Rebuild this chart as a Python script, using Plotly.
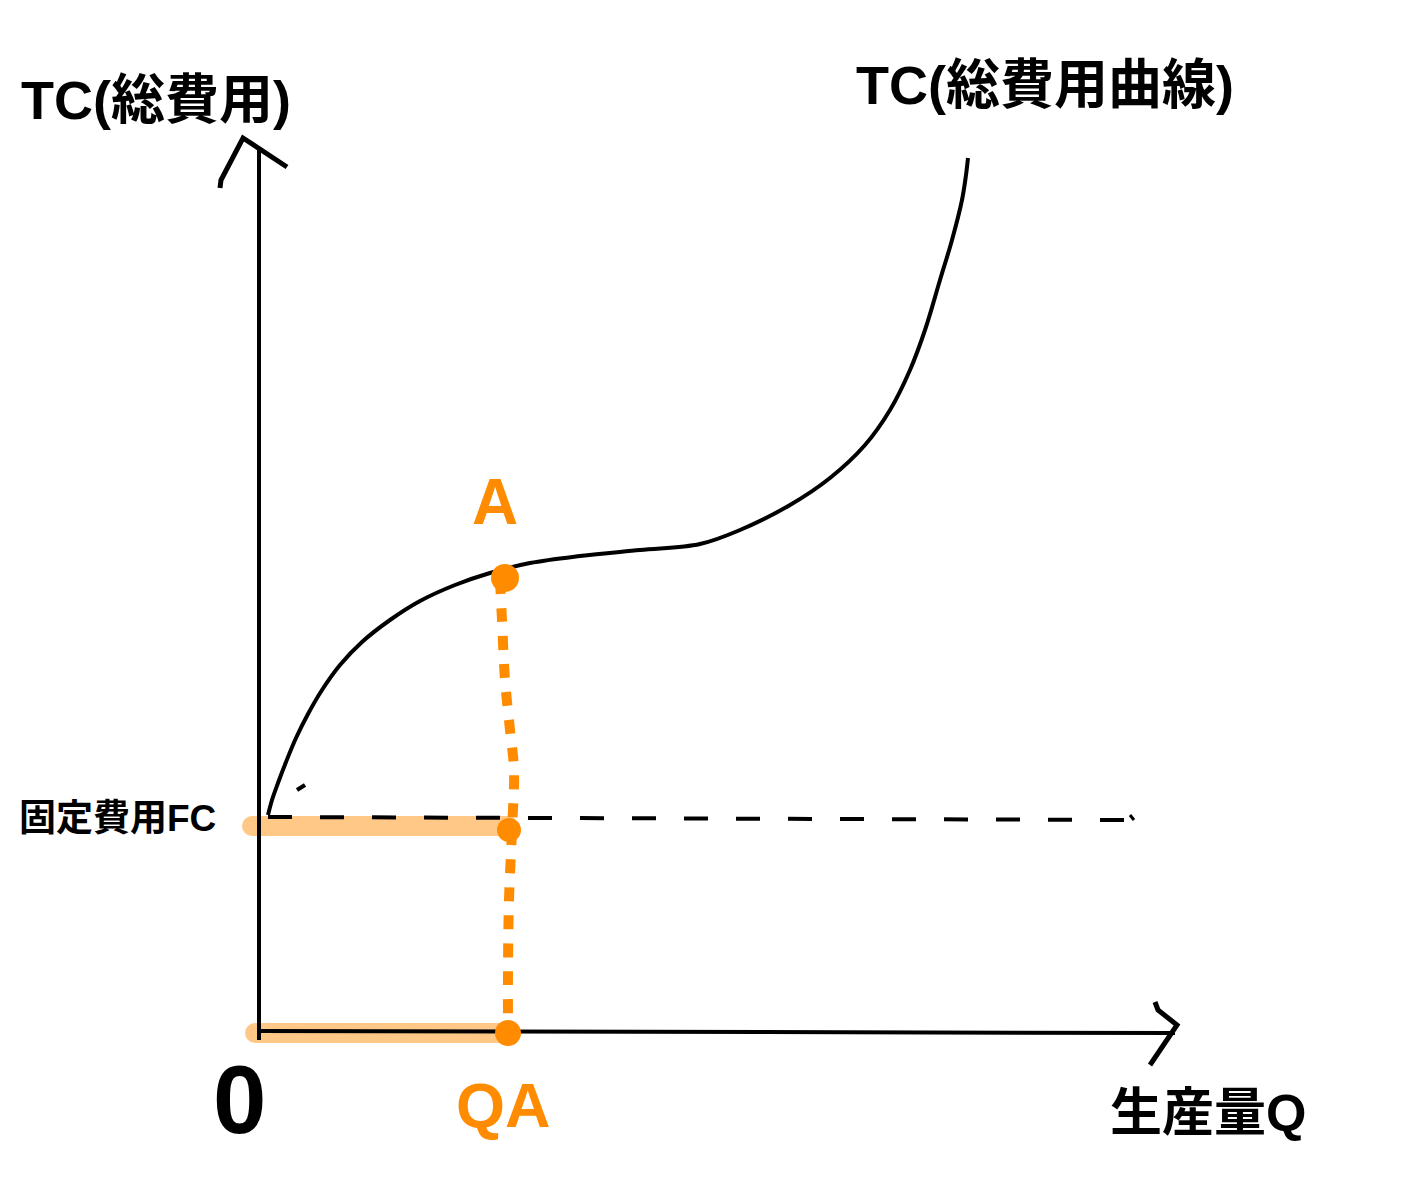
import plotly.graph_objects as go

# ---- data (Q = output, TC = cost; origin at axis intersection) ----
tc_q = [9, 13, 19, 27, 37, 49, 63, 81, 103, 131, 161, 196, 231, 271, 321, 381, 441,
        481, 531, 571, 606, 631, 651, 666, 681, 693, 703, 707, 709]
tc_v = [218, 233, 250, 271, 295, 319, 343, 368, 391, 413, 432, 448, 460, 470, 477, 483, 489,
        503, 528, 555, 588, 623, 663, 703, 753, 793, 833, 858, 875]

fc_q = [9, 300, 600, 871]
fc_v = [216, 215, 214, 213]
fc_hook_q = [871, 875]
fc_hook_v = [218, 213]

tick_q = [38, 46]
tick_v = [243, 248]

qa = 249          # output at point A
fc_level = 207    # fixed-cost band level
band_fc_q = [-7, qa]
band_fc_v = [fc_level, fc_level]
band_0_q = [-4, qa]
band_0_v = [0, 0]

drop_q = [241, 243, 246, 251, 255, 253, 250, 249, 249]
drop_v = [453, 413, 353, 303, 263, 203, 133, 63, 0]
blob_q = [246, 250, 249]
blob_v = [455, 203, 0]
blob_s = [28, 24, 26]

yaxis_q = [0, 0]
yaxis_v = [885, -7]
xaxis_q = [0, 916]
xaxis_v = [2, 0]
yarrow_q = [-39, -38, -16, 28]
yarrow_v = [845, 853, 895, 866]
xarrow_q = [896, 899, 918, 891]
xarrow_v = [31, 23, 8, -32]

BLACK = "#000000"
ORANGE = "#FF8C00"
LIGHT = "#FFC886"
FONT = "Liberation Sans, Noto Sans CJK JP, sans-serif"

fig = go.Figure()

def line(x, y, color, width, dash="solid", shape="linear"):
    fig.add_trace(go.Scatter(x=x, y=y, mode="lines",
                             line=dict(color=color, width=width, dash=dash, shape=shape),
                             hoverinfo="skip", showlegend=False))

# light orange bands (with round ends)
for bx, by in [(band_fc_q, band_fc_v), (band_0_q, band_0_v)]:
    line(bx, by, LIGHT, 20)
    fig.add_trace(go.Scatter(x=bx, y=by, mode="markers",
                             marker=dict(color=LIGHT, size=20, opacity=1, line=dict(width=0)),
                             hoverinfo="skip", showlegend=False))

# axes
line(yaxis_q, yaxis_v, BLACK, 4)
line(xaxis_q, xaxis_v, BLACK, 4)
line(yarrow_q, yarrow_v, BLACK, 5)
line(xarrow_q, xarrow_v, BLACK, 5)

# fixed cost dashed line
line(fc_q, fc_v, BLACK, 4, dash="24px,28px")
line(fc_hook_q, fc_hook_v, BLACK, 3)

# TC curve
line(tc_q, tc_v, BLACK, 4, shape="spline")
line(tick_q, tick_v, BLACK, 4)

# orange dotted drop line
line(drop_q, drop_v, ORANGE, 10, dash="14px,14px", shape="spline")
fig.add_trace(go.Scatter(x=blob_q, y=blob_v, mode="markers",
                         marker=dict(color=ORANGE, size=blob_s, opacity=1, line=dict(width=0)),
                         hoverinfo="skip", showlegend=False))

def label(text, x, y, size, color=BLACK, xanchor="left"):
    fig.add_annotation(x=x, y=y, xref="x", yref="y", text=text, showarrow=False,
                       xanchor=xanchor, yanchor="middle",
                       font=dict(family=FONT, size=size, color=color, weight="bold"))

label("TC(総費用)", -240, 933, 54)
label("TC(総費用曲線)", 595, 948, 54)
label("固定費用FC", -41, 215, 37, xanchor="right")
label("生産量Q", 849, -80, 52)
label("0", -20, -66, 96, xanchor="center")
label("QA", 244, -72, 63, color=ORANGE, xanchor="center")
label("A", 236, 531, 64, color=ORANGE, xanchor="center")

# page body has an 8px margin, so the figure is 8px smaller to fill the window
fig.update_layout(
    width=1393, height=1169,
    margin=dict(l=0, r=0, t=0, b=0),
    paper_bgcolor="white", plot_bgcolor="white",
    xaxis=dict(range=[-251, 1142], visible=False, fixedrange=True),
    yaxis=dict(range=[-144, 1025], visible=False, fixedrange=True),
    showlegend=False,
)

fig.write_html("out.html")
